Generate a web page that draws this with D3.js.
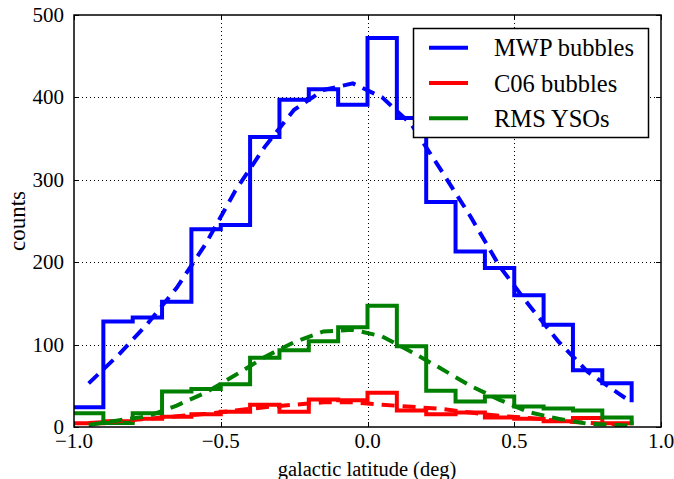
<!DOCTYPE html>
<html>
<head>
<meta charset="utf-8">
<script src="https://cdn.jsdelivr.net/npm/d3@7"></script>
<style>
  body { margin: 0; background: #fff; }
  svg { display: block; font-family: "Liberation Serif", "DejaVu Serif", serif; }
</style>
</head>
<body>
<svg id="chart" width="674" height="479"></svg>
<script>
// histogram bin left edges (steps drawn "post")
var binEdges = [-1.0, -0.9, -0.8, -0.7, -0.6, -0.5, -0.4, -0.3, -0.2, -0.1, 0.0, 0.1, 0.2, 0.3, 0.4, 0.5, 0.6, 0.7, 0.8, 0.9];
var mwpCounts = [24, 128, 133, 152, 240, 245, 352, 397, 410, 391, 472, 375, 273, 213, 193, 160, 124, 69, 53, 30];
var c06Counts = [4.5, 7, 10, 12.5, 15.5, 18.6, 27, 18.6, 33.5, 32.5, 41.5, 20, 15.5, 17.5, 11.5, 10, 7, 11, 4.5, 2];
var rmsCounts = [16.6, 5, 16.6, 43, 46, 52, 84, 93, 104, 121, 147, 98, 44, 31, 37, 25, 22.5, 20, 11.5, 2];

// fitted curves (dashed)
var fitX = [-0.95, -0.85, -0.75, -0.65, -0.55, -0.45, -0.35, -0.25, -0.15, -0.05, 0.05, 0.15, 0.25, 0.35, 0.45, 0.55, 0.65, 0.75, 0.85, 0.9];
var mwpFit = [53, 87, 125, 169, 223, 287, 340, 385, 409, 417, 400, 367, 312, 256, 195, 148, 104, 67, 42, 30];
var c06Fit = [5, 7, 10, 13, 16, 20, 24, 27, 30, 30, 27, 24.5, 22, 17.5, 13.5, 11, 7.5, 5, 3.5, 2.8];
var rmsFit = [2.5, 8, 13, 26, 42, 63, 85, 103, 116, 118, 110, 91, 71, 50, 33, 18, 10, 4, 2.3, 1.5];

var seriesNames = ["MWP bubbles", "C06 bubbles", "RMS YSOs"];
var seriesColors = ["#0000ff", "#ff0000", "#008000"];

var xTicks = [-1.0, -0.5, 0.0, 0.5, 1.0];
var yTicks = [0, 100, 200, 300, 400, 500];

var svg = d3.select('#chart');
var pLeft = 74, pRight = 661, pTop = 15, pBottom = 427;

var x = d3.scaleLinear().domain([-1, 1]).range([pLeft, pRight]);
var y = d3.scaleLinear().domain([0, 500]).range([pBottom, pTop]);

svg.append('defs').append('clipPath').attr('id', 'plotclip')
  .append('rect').attr('x', pLeft).attr('y', pTop).attr('width', pRight - pLeft).attr('height', pBottom - pTop);

// grid
var grid = svg.append('g').attr('stroke', '#000').attr('stroke-width', 1).attr('stroke-dasharray', '1,3');
grid.selectAll('line.gx').data(xTicks.slice(1, -1)).enter().append('line')
  .attr('x1', function(d){ return Math.round(x(d)) + 0.5; })
  .attr('x2', function(d){ return Math.round(x(d)) + 0.5; })
  .attr('y1', pTop).attr('y2', pBottom);
grid.selectAll('line.gy').data(yTicks.slice(1, -1)).enter().append('line')
  .attr('y1', function(d){ return Math.round(y(d)) + 0.5; })
  .attr('y2', function(d){ return Math.round(y(d)) + 0.5; })
  .attr('x1', pLeft).attr('x2', pRight);

var plot = svg.append('g').attr('clip-path', 'url(#plotclip)');

var stepLine = d3.line().curve(d3.curveStepAfter)
  .x(function(d){ return x(d[0]); })
  .y(function(d){ return y(d[1]); });
var fitLine = d3.line()
  .x(function(d){ return x(d[0]); })
  .y(function(d){ return y(d[1]); });

var counts = [mwpCounts, c06Counts, rmsCounts];
var fits = [mwpFit, c06Fit, rmsFit];

counts.forEach(function(c, i){
  plot.append('path')
    .attr('d', stepLine(binEdges.map(function(b, j){ return [b, c[j]]; })))
    .attr('fill', 'none').attr('stroke', seriesColors[i]).attr('stroke-width', 4)
    .attr('stroke-linejoin', 'miter');
});
fits.forEach(function(f, i){
  plot.append('path')
    .attr('d', fitLine(fitX.map(function(v, j){ return [v, f[j]]; })))
    .attr('fill', 'none').attr('stroke', seriesColors[i]).attr('stroke-width', 4)
    .attr('stroke-dasharray', '13,8');
});

// frame
svg.append('rect').attr('x', pLeft).attr('y', pTop).attr('width', pRight - pLeft).attr('height', pBottom - pTop)
  .attr('fill', 'none').attr('stroke', '#000').attr('stroke-width', 1.5);

// ticks (inward, all sides)
var tk = svg.append('g').attr('stroke', '#000').attr('stroke-width', 1);
xTicks.forEach(function(t){
  var px = Math.round(x(t)) + 0.5;
  tk.append('line').attr('x1', px).attr('x2', px).attr('y1', pBottom).attr('y2', pBottom - 5);
  tk.append('line').attr('x1', px).attr('x2', px).attr('y1', pTop).attr('y2', pTop + 5);
});
yTicks.forEach(function(t){
  var py = Math.round(y(t)) + 0.5;
  tk.append('line').attr('x1', pLeft).attr('x2', pLeft + 5).attr('y1', py).attr('y2', py);
  tk.append('line').attr('x1', pRight).attr('x2', pRight - 5).attr('y1', py).attr('y2', py);
});

function fmt(v){
  var s = v.toFixed(1);
  return s.replace('-', '\u2212');
}

svg.append('g').selectAll('text').data(xTicks).enter().append('text')
  .attr('x', function(d){ return x(d); }).attr('y', 448)
  .attr('text-anchor', 'middle').attr('font-size', 21).text(fmt);
svg.append('g').selectAll('text').data(yTicks).enter().append('text')
  .attr('x', 64).attr('y', function(d){ return y(d) + 7; })
  .attr('text-anchor', 'end').attr('font-size', 21).text(function(d){ return d; });

svg.append('text').attr('x', 367).attr('y', 476).attr('text-anchor', 'middle')
  .attr('font-size', 20.5).text('galactic latitude (deg)');
svg.append('text').attr('transform', 'translate(25,221) rotate(-90)').attr('text-anchor', 'middle')
  .attr('font-size', 23).text('counts');

// legend
var lg = svg.append('g');
lg.append('rect').attr('x', 413.5).attr('y', 28.5).attr('width', 235).attr('height', 109)
  .attr('fill', '#fff').attr('stroke', '#000').attr('stroke-width', 1.5);
seriesNames.forEach(function(n, i){
  var cy = 47.7 + i * 35.3;
  lg.append('line').attr('x1', 429).attr('x2', 468).attr('y1', cy).attr('y2', cy)
    .attr('stroke', seriesColors[i]).attr('stroke-width', 4);
  lg.append('text').attr('x', 494).attr('y', cy + 8.5).attr('font-size', 24.5).text(n);
});
</script>
</body>
</html>
